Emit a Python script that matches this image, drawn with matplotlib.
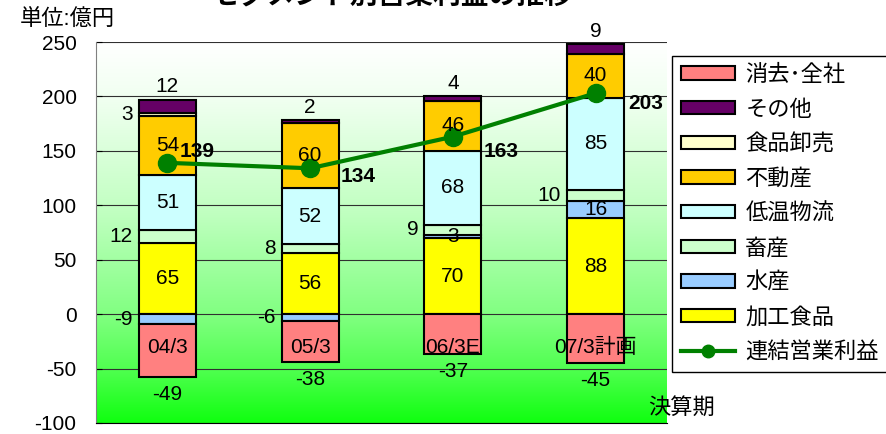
import numpy as np
import matplotlib.pyplot as plt
from matplotlib.colors import LinearSegmentedColormap
from matplotlib.patches import Patch
from matplotlib.lines import Line2D

plt.rcParams['font.family'] = ['Liberation Sans', 'Noto Sans CJK JP']
plt.rcParams['axes.unicode_minus'] = False

# data (億円)
periods = ['04/3', '05/3', '06/3E', '07/3計画']
segments = ['加工食品', '水産', '畜産', '低温物流', '不動産', '食品卸売', 'その他', '消去･全社']
kakou = [65, 56, 70, 88]
suisan = [-9, -6, 3, 16]
chikusan = [12, 8, 9, 10]
teion = [51, 52, 68, 85]
fudosan = [54, 60, 46, 40]
oroshi = [3, 0, 0, 0]
sonota = [12, 2, 4, 9]
shokyo = [-49, -38, -37, -45]
renketsu = [139, 134, 163, 203]

series = [kakou, suisan, chikusan, teion, fudosan, oroshi, sonota, shokyo]
colors = ['#FFFF00', '#99CCFF', '#CCFFCC', '#CCFFFF', '#FFCC00', '#FFFFCC', '#660066', '#FF8080']
# where each segment's value label goes
where = [['in'] * 4, ['left', 'left', 'in', 'in'], ['left'] * 4, ['in'] * 4,
         ['in'] * 4, ['left'] * 4, ['top'] * 4, ['bottom'] * 4]

fig = plt.figure(figsize=(8.86, 4.34), dpi=100)
ax = fig.add_axes([96 / 886, 1 - 423 / 434, (667 - 96) / 886, (423 - 42) / 434])

# gradient background
cmap = LinearSegmentedColormap.from_list(
    'bg', [(0, '#FFFFFF'), (0.15, '#F0FFF0'), (0.45, '#C0FFC0'),
           (0.72, '#80FF80'), (0.86, '#50FF50'), (1, '#10FF10')])
grad = np.linspace(0, 1, 256).reshape(-1, 1)
ax.imshow(grad, extent=[-0.5, 3.5, -100, 250], cmap=cmap, aspect='auto', zorder=0)

x = np.arange(len(periods))
pos_base = np.zeros(4)
neg_base = np.zeros(4)
for vals, c, wh in zip(series, colors, where):
    vals = np.array(vals, dtype=float)
    bottom = np.where(vals >= 0, pos_base, neg_base)
    m = vals != 0
    ax.bar(x[m], vals[m], width=0.4, bottom=bottom[m], color=c,
           edgecolor='black', linewidth=1.5, zorder=2)
    for i in np.where(m)[0]:
        v = vals[i]
        s = '%d' % v
        if wh[i] == 'in':
            ax.text(x[i], bottom[i] + v / 2, s, ha='center', va='center', fontsize=15, zorder=5)
        elif wh[i] == 'left':
            ax.annotate(s, (x[i] - 0.2, bottom[i] + v / 2), xytext=(-6, 0),
                        textcoords='offset pixels', ha='right', va='center', fontsize=15, zorder=5)
        elif wh[i] == 'top':
            ax.annotate(s, (x[i], bottom[i] + v), xytext=(0, 13),
                        textcoords='offset pixels', ha='center', va='center', fontsize=15, zorder=5)
        else:
            ax.annotate(s, (x[i], bottom[i] + v), xytext=(0, -17),
                        textcoords='offset pixels', ha='center', va='center', fontsize=15, zorder=5)
    pos_base += np.where(vals > 0, vals, 0)
    neg_base += np.where(vals < 0, vals, 0)

# consolidated operating profit line
ax.plot(x, renketsu, color='#008000', linewidth=3, marker='o', markersize=13, zorder=4)
offs = [(12, 11), (30, -8), (31, -15), (33, -10)]
for i, v in enumerate(renketsu):
    ax.annotate(str(v), (x[i], v), xytext=offs[i], textcoords='offset pixels',
                ha='left', va='center', fontsize=15, fontweight='bold', zorder=6)

# period labels sit just under the zero line
for i, p in enumerate(periods):
    ax.annotate(p, (x[i], 0), xytext=(0, -33), textcoords='offset pixels',
                ha='center', va='center', fontsize=15, zorder=5)

ax.set_xlim(-0.5, 3.5)
ax.set_ylim(-100, 250)
ax.set_yticks(range(-100, 251, 50))
ax.set_yticklabels(['%d' % t for t in range(-100, 251, 50)])
ax.set_xticks([])
ax.tick_params(axis='y', direction='in', length=4, pad=14, labelsize=15, color='black')
ax.yaxis.grid(True, color='#303030', linewidth=0.8)
ax.set_axisbelow(True)
for s in ['top', 'right']:
    ax.spines[s].set_visible(False)
ax.spines['left'].set_color('#808080')
ax.spines['bottom'].set_color('black')

handles = []
for name, c in zip(segments[::-1], colors[::-1]):
    handles.append(Patch(facecolor=c, edgecolor='black', linewidth=1.5, label=name))
handles.append(Line2D([], [], color='#008000', linewidth=3, marker='o', markersize=9,
                      label='連結営業利益'))
fig.legend(handles=handles, loc='upper left', bbox_to_anchor=(672 / 886, 1 - 56 / 434),
           fontsize=16, frameon=True, fancybox=False, edgecolor='black', framealpha=1,
           handlelength=2.45, handleheight=0.55, handletextpad=0.45, labelspacing=0.61,
           borderpad=0.4, borderaxespad=0)

fig.text(392 / 886, 1.009, 'セグメント別営業利益の推移', ha='center', va='center',
         fontsize=20, fontweight='bold')
fig.text(20 / 886, 1 - 20 / 434, '単位:億円', ha='left', va='center', fontsize=16)
fig.text(648 / 886, 1 - 408 / 434, '決算期', ha='left', va='center', fontsize=16)

plt.savefig('out.png', dpi=100)
